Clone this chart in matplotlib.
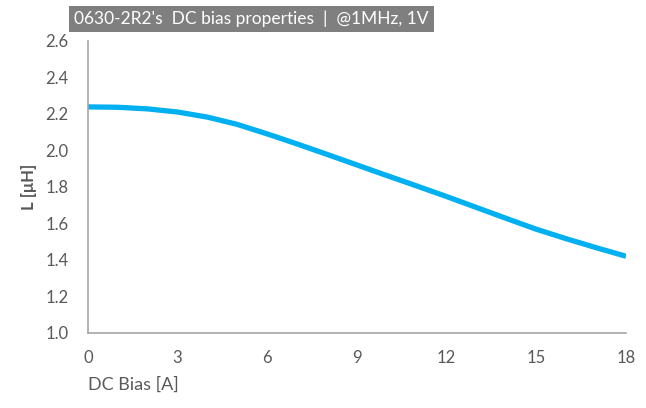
import numpy as np
import matplotlib.pyplot as plt

plt.rcParams['font.family'] = ['Lato', 'DejaVu Sans']

# DC bias sweep
bias_a = [0, 1, 2, 3, 4, 5, 6, 7, 8, 9, 10, 11, 12, 13, 14, 15, 16, 17, 18]
induct_uh = [2.238, 2.236, 2.227, 2.21, 2.182, 2.142, 2.09, 2.035, 1.978, 1.92,
             1.862, 1.805, 1.747, 1.687, 1.627, 1.568, 1.516, 1.467, 1.42]

x_ticks = [0, 3, 6, 9, 12, 15, 18]
y_ticks = np.arange(1.0, 2.61, 0.2)

txt_col = '#595959'
fig = plt.figure(figsize=(6.46, 4.08), dpi=100)
ax = fig.add_axes([0.136, 0.184, 0.833, 0.716])

ax.plot(bias_a, induct_uh, color='#00b0f0', lw=3.8, solid_capstyle='butt',
        solid_joinstyle='round')

ax.set_xlim(0, 18)
ax.set_ylim(1.0, 2.6)
ax.set_xticks(x_ticks)
ax.set_yticks(y_ticks)
ax.set_yticklabels([f'{v:.1f}' for v in y_ticks])
ax.tick_params(length=0, labelsize=12, colors=txt_col, pad=12)
ax.tick_params(axis='y', pad=14)

for s in ['top', 'right']:
    ax.spines[s].set_visible(False)
for s in ['left', 'bottom']:
    ax.spines[s].set_color('#a6a6a6')
    ax.spines[s].set_linewidth(1.2)

ax.set_ylabel('L [μH]', fontsize=12, color=txt_col, fontweight='bold', labelpad=6)
fig.text(88 / 646, 1 - 385 / 408, 'DC Bias [A]', fontsize=13, color=txt_col,
         ha='left', va='center')

fig.text(74 / 646, 1 - 19 / 408, "0630-2R2's  DC bias properties  |  @1MHz, 1V",
         fontsize=12.5, color='white', ha='left', va='center',
         bbox=dict(boxstyle='square,pad=0.3', fc='#7f7f7f', ec='none'))

plt.savefig('out.png', dpi=100)
